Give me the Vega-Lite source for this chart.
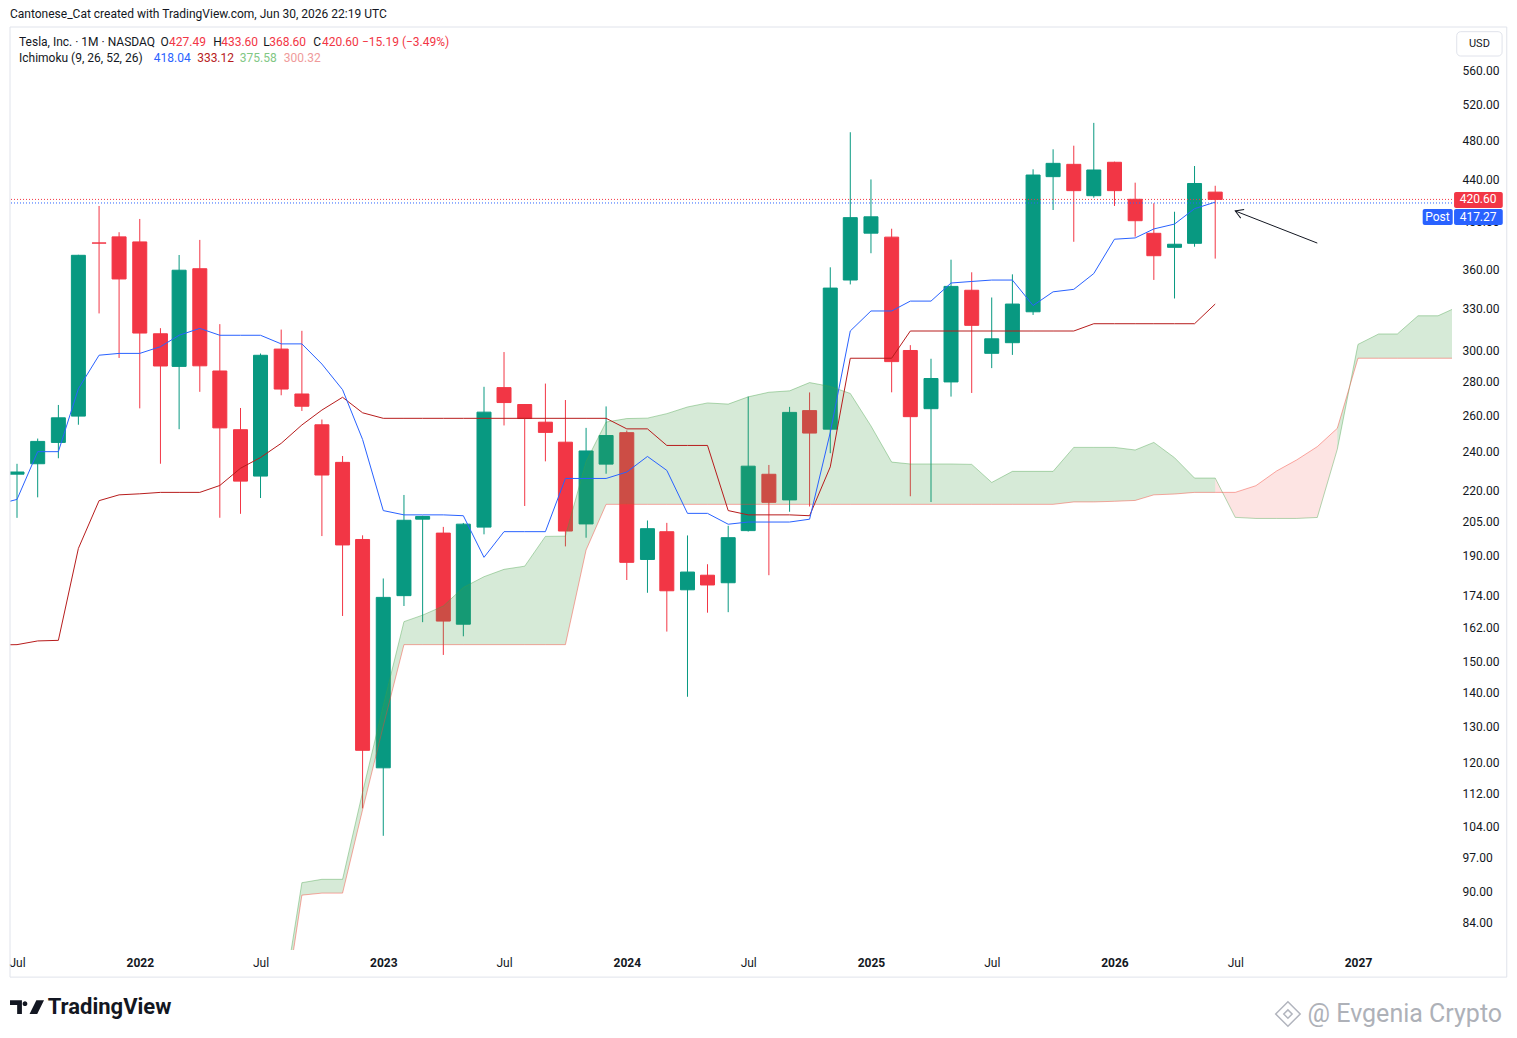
{
  "$schema": "https://vega.github.io/schema/vega-lite/v6.json",
  "width": 1442,
  "height": 923,
  "autosize": {"type": "none"},
  "padding": {"left": 10, "top": 27, "right": 65, "bottom": 88},
  "background": "#ffffff",
  "config": {
    "view": {"stroke": null},
    "font": "Roboto",
    "text": {"font": "Roboto", "fontSize": 12, "align": "left", "baseline": "middle", "color": "#131722"}
  },
  "datasets": {
    "candles": [
      {"d": "2021-07-01", "o": 227.97, "h": 233.3, "l": 206.82, "c": 229.07},
      {"d": "2021-08-01", "o": 233.33, "h": 246.8, "l": 216.5, "c": 245.24},
      {"d": "2021-09-01", "o": 244.69, "h": 266.0, "l": 236.2, "c": 258.49},
      {"d": "2021-10-01", "o": 259.47, "h": 371.74, "l": 254.53, "c": 371.33},
      {"d": "2021-11-01", "o": 381.67, "h": 414.5, "l": 326.2, "c": 381.59},
      {"d": "2021-12-01", "o": 386.9, "h": 390.95, "l": 295.37, "c": 352.26},
      {"d": "2022-01-01", "o": 382.58, "h": 402.67, "l": 264.0, "c": 312.24},
      {"d": "2022-02-01", "o": 311.74, "h": 315.67, "l": 233.33, "c": 290.14},
      {"d": "2022-03-01", "o": 289.89, "h": 371.59, "l": 252.01, "c": 359.2},
      {"d": "2022-04-01", "o": 360.38, "h": 384.29, "l": 273.9, "c": 290.25},
      {"d": "2022-05-01", "o": 286.92, "h": 318.5, "l": 206.86, "c": 252.75},
      {"d": "2022-06-01", "o": 251.72, "h": 264.21, "l": 208.69, "c": 224.47},
      {"d": "2022-07-01", "o": 227.0, "h": 298.32, "l": 216.17, "c": 297.15},
      {"d": "2022-08-01", "o": 301.28, "h": 314.67, "l": 271.81, "c": 275.61},
      {"d": "2022-09-01", "o": 272.58, "h": 313.8, "l": 262.47, "c": 265.25},
      {"d": "2022-10-01", "o": 254.5, "h": 257.5, "l": 198.59, "c": 227.54},
      {"d": "2022-11-01", "o": 234.05, "h": 237.4, "l": 166.19, "c": 194.7},
      {"d": "2022-12-01", "o": 197.08, "h": 198.92, "l": 108.24, "c": 123.18},
      {"d": "2023-01-01", "o": 118.47, "h": 180.68, "l": 101.81, "c": 173.22},
      {"d": "2023-02-01", "o": 173.89, "h": 217.65, "l": 169.93, "c": 205.71},
      {"d": "2023-03-01", "o": 206.21, "h": 207.79, "l": 163.91, "c": 207.46},
      {"d": "2023-04-01", "o": 199.91, "h": 202.69, "l": 152.37, "c": 164.31},
      {"d": "2023-05-01", "o": 163.17, "h": 204.48, "l": 158.83, "c": 203.93},
      {"d": "2023-06-01", "o": 202.59, "h": 276.99, "l": 199.37, "c": 261.77},
      {"d": "2023-07-01", "o": 276.49, "h": 299.29, "l": 254.12, "c": 267.43},
      {"d": "2023-08-01", "o": 266.26, "h": 266.47, "l": 212.36, "c": 258.08},
      {"d": "2023-09-01", "o": 255.98, "h": 278.98, "l": 234.58, "c": 250.22},
      {"d": "2023-10-01", "o": 244.81, "h": 268.94, "l": 194.07, "c": 200.84},
      {"d": "2023-11-01", "o": 204.04, "h": 252.75, "l": 197.85, "c": 240.08},
      {"d": "2023-12-01", "o": 233.14, "h": 265.13, "l": 228.2, "c": 248.48},
      {"d": "2024-01-01", "o": 250.08, "h": 251.25, "l": 180.06, "c": 187.29},
      {"d": "2024-02-01", "o": 188.5, "h": 205.6, "l": 175.01, "c": 201.88},
      {"d": "2024-03-01", "o": 200.52, "h": 204.52, "l": 160.51, "c": 175.79},
      {"d": "2024-04-01", "o": 176.17, "h": 198.87, "l": 138.8, "c": 183.28},
      {"d": "2024-05-01", "o": 182.0, "h": 186.5, "l": 167.41, "c": 178.08},
      {"d": "2024-06-01", "o": 178.97, "h": 203.2, "l": 167.6, "c": 197.88},
      {"d": "2024-07-01", "o": 201.02, "h": 271.0, "l": 200.6, "c": 232.07},
      {"d": "2024-08-01", "o": 227.92, "h": 232.7, "l": 182.0, "c": 214.11},
      {"d": "2024-09-01", "o": 215.26, "h": 264.86, "l": 209.65, "c": 261.63},
      {"d": "2024-10-01", "o": 262.67, "h": 273.54, "l": 212.11, "c": 249.85},
      {"d": "2024-11-01", "o": 252.04, "h": 361.53, "l": 238.88, "c": 345.16},
      {"d": "2024-12-01", "o": 351.42, "h": 488.54, "l": 348.0, "c": 403.84},
      {"d": "2025-01-01", "o": 390.1, "h": 439.74, "l": 373.04, "c": 404.6},
      {"d": "2025-02-01", "o": 386.68, "h": 394.0, "l": 273.6, "c": 292.98},
      {"d": "2025-03-01", "o": 300.34, "h": 303.94, "l": 217.02, "c": 259.16},
      {"d": "2025-04-01", "o": 263.8, "h": 294.86, "l": 214.25, "c": 282.16},
      {"d": "2025-05-01", "o": 280.01, "h": 367.71, "l": 271.0, "c": 346.46},
      {"d": "2025-06-01", "o": 343.5, "h": 357.54, "l": 273.21, "c": 317.66},
      {"d": "2025-07-01", "o": 298.46, "h": 338.0, "l": 288.77, "c": 308.27},
      {"d": "2025-08-01", "o": 305.6, "h": 355.9, "l": 297.4, "c": 333.1},
      {"d": "2025-09-01", "o": 327.4, "h": 449.8, "l": 325.1, "c": 444.1},
      {"d": "2025-10-01", "o": 442.5, "h": 470.3, "l": 410.8, "c": 455.8},
      {"d": "2025-11-01", "o": 454.8, "h": 474.1, "l": 382.7, "c": 428.9},
      {"d": "2025-12-01", "o": 424.1, "h": 498.83, "l": 422.2, "c": 449.1},
      {"d": "2026-01-01", "o": 456.9, "h": 457.5, "l": 414.5, "c": 428.9},
      {"d": "2026-02-01", "o": 420.7, "h": 436.6, "l": 387.1, "c": 401.1},
      {"d": "2026-03-01", "o": 390.0, "h": 417.0, "l": 351.5, "c": 371.0},
      {"d": "2026-04-01", "o": 378.0, "h": 409.2, "l": 337.25, "c": 380.6},
      {"d": "2026-05-01", "o": 381.4, "h": 453.1, "l": 378.5, "c": 435.79},
      {"d": "2026-06-01", "o": 427.49, "h": 433.6, "l": 368.6, "c": 420.6}
    ],
    "lines": [
      {"d": "2021-06-01", "t": 213.0, "k": 155.8},
      {"d": "2021-07-01", "t": 215.5, "k": 155.9},
      {"d": "2021-08-01", "t": 239.7, "k": 157.2},
      {"d": "2021-09-01", "t": 239.7, "k": 157.4},
      {"d": "2021-10-01", "t": 275.8, "k": 193.2},
      {"d": "2021-11-01", "t": 297.2, "k": 214.9},
      {"d": "2021-12-01", "t": 298.4, "k": 217.7},
      {"d": "2022-01-01", "t": 298.4, "k": 218.2},
      {"d": "2022-02-01", "t": 302.9, "k": 218.9},
      {"d": "2022-03-01", "t": 310.7, "k": 218.9},
      {"d": "2022-04-01", "t": 315.5, "k": 218.9},
      {"d": "2022-05-01", "t": 310.7, "k": 222.3},
      {"d": "2022-06-01", "t": 310.7, "k": 231.0},
      {"d": "2022-07-01", "t": 310.7, "k": 236.6},
      {"d": "2022-08-01", "t": 304.8, "k": 244.2},
      {"d": "2022-09-01", "t": 304.8, "k": 254.4},
      {"d": "2022-10-01", "t": 291.4, "k": 263.0},
      {"d": "2022-11-01", "t": 275.2, "k": 270.6},
      {"d": "2022-12-01", "t": 246.3, "k": 261.4},
      {"d": "2023-01-01", "t": 210.2, "k": 258.2},
      {"d": "2023-02-01", "t": 208.2, "k": 258.2},
      {"d": "2023-03-01", "t": 208.2, "k": 258.2},
      {"d": "2023-04-01", "t": 208.2, "k": 258.2},
      {"d": "2023-05-01", "t": 207.8, "k": 258.2},
      {"d": "2023-06-01", "t": 189.4, "k": 258.2},
      {"d": "2023-07-01", "t": 200.55, "k": 258.2},
      {"d": "2023-08-01", "t": 200.55, "k": 258.2},
      {"d": "2023-09-01", "t": 200.55, "k": 258.2},
      {"d": "2023-10-01", "t": 225.8, "k": 258.2},
      {"d": "2023-11-01", "t": 225.8, "k": 258.2},
      {"d": "2023-12-01", "t": 225.8, "k": 258.2},
      {"d": "2024-01-01", "t": 229.06, "k": 252.2},
      {"d": "2024-02-01", "t": 237.15, "k": 252.2},
      {"d": "2024-03-01", "t": 229.9, "k": 243.05},
      {"d": "2024-04-01", "t": 208.9, "k": 243.05},
      {"d": "2024-05-01", "t": 208.9, "k": 243.05},
      {"d": "2024-06-01", "t": 203.9, "k": 210.2},
      {"d": "2024-07-01", "t": 204.9, "k": 208.2},
      {"d": "2024-08-01", "t": 204.9, "k": 208.2},
      {"d": "2024-09-01", "t": 204.9, "k": 208.2},
      {"d": "2024-10-01", "t": 206.2, "k": 207.8},
      {"d": "2024-11-01", "t": 250.2, "k": 231.7},
      {"d": "2024-12-01", "t": 313.7, "k": 295.2},
      {"d": "2025-01-01", "t": 328.0, "k": 295.2},
      {"d": "2025-02-01", "t": 328.0, "k": 295.2},
      {"d": "2025-03-01", "t": 335.3, "k": 313.67},
      {"d": "2025-04-01", "t": 335.3, "k": 313.67},
      {"d": "2025-05-01", "t": 349.1, "k": 313.67},
      {"d": "2025-06-01", "t": 350.3, "k": 313.67},
      {"d": "2025-07-01", "t": 351.4, "k": 313.67},
      {"d": "2025-08-01", "t": 351.4, "k": 313.67},
      {"d": "2025-09-01", "t": 332.0, "k": 313.67},
      {"d": "2025-10-01", "t": 342.3, "k": 313.67},
      {"d": "2025-11-01", "t": 344.2, "k": 313.67},
      {"d": "2025-12-01", "t": 356.54, "k": 318.8},
      {"d": "2026-01-01", "t": 384.9, "k": 318.8},
      {"d": "2026-02-01", "t": 386.0, "k": 318.8},
      {"d": "2026-03-01", "t": 393.8, "k": 318.8},
      {"d": "2026-04-01", "t": 398.1, "k": 318.8},
      {"d": "2026-05-01", "t": 412.0, "k": 318.8},
      {"d": "2026-06-01", "t": 418.04, "k": 333.12}
    ],
    "cloud": [
      {"d": "2022-08-01", "a": 68.6, "b": 65.8},
      {"d": "2022-09-01", "a": 91.7, "b": 89.2},
      {"d": "2022-10-01", "a": 92.4, "b": 89.6},
      {"d": "2022-11-01", "a": 92.4, "b": 89.6},
      {"d": "2022-12-01", "a": 112.2, "b": 107.9},
      {"d": "2023-01-01", "a": 136.1, "b": 130.0},
      {"d": "2023-02-01", "a": 164.1, "b": 155.9},
      {"d": "2023-03-01", "a": 166.5, "b": 155.9},
      {"d": "2023-04-01", "a": 169.9, "b": 155.9},
      {"d": "2023-05-01", "a": 177.1, "b": 155.9},
      {"d": "2023-06-01", "a": 181.4, "b": 155.9},
      {"d": "2023-07-01", "a": 184.4, "b": 155.9},
      {"d": "2023-08-01", "a": 185.7, "b": 155.9},
      {"d": "2023-09-01", "a": 198.45, "b": 155.9},
      {"d": "2023-10-01", "a": 198.55, "b": 155.9},
      {"d": "2023-11-01", "a": 234.5, "b": 192.5},
      {"d": "2023-12-01", "a": 256.05, "b": 213.15},
      {"d": "2024-01-01", "a": 258.05, "b": 213.15},
      {"d": "2024-02-01", "a": 258.3, "b": 213.15},
      {"d": "2024-03-01", "a": 260.9, "b": 213.15},
      {"d": "2024-04-01", "a": 264.8, "b": 213.15},
      {"d": "2024-05-01", "a": 267.2, "b": 213.15},
      {"d": "2024-06-01", "a": 266.5, "b": 213.15},
      {"d": "2024-07-01", "a": 270.85, "b": 213.15},
      {"d": "2024-08-01", "a": 273.65, "b": 213.15},
      {"d": "2024-09-01", "a": 274.5, "b": 213.15},
      {"d": "2024-10-01", "a": 279.6, "b": 213.15},
      {"d": "2024-11-01", "a": 277.2, "b": 213.15},
      {"d": "2024-12-01", "a": 272.9, "b": 213.15},
      {"d": "2025-01-01", "a": 253.85, "b": 213.15},
      {"d": "2025-02-01", "a": 234.2, "b": 213.15},
      {"d": "2025-03-01", "a": 233.2, "b": 213.15},
      {"d": "2025-04-01", "a": 233.2, "b": 213.15},
      {"d": "2025-05-01", "a": 233.2, "b": 213.15},
      {"d": "2025-06-01", "a": 233.0, "b": 213.15},
      {"d": "2025-07-01", "a": 223.8, "b": 213.15},
      {"d": "2025-08-01", "a": 229.4, "b": 213.15},
      {"d": "2025-09-01", "a": 229.4, "b": 213.15},
      {"d": "2025-10-01", "a": 229.4, "b": 213.15},
      {"d": "2025-11-01", "a": 242.0, "b": 214.3},
      {"d": "2025-12-01", "a": 242.0, "b": 214.3},
      {"d": "2026-01-01", "a": 242.0, "b": 214.6},
      {"d": "2026-02-01", "a": 240.6, "b": 215.0},
      {"d": "2026-03-01", "a": 244.7, "b": 217.7},
      {"d": "2026-04-01", "a": 236.5, "b": 218.1},
      {"d": "2026-05-01", "a": 226.0, "b": 218.9},
      {"d": "2026-06-01", "a": 226.0, "b": 218.9},
      {"d": "2026-07-01", "a": 207.05, "b": 218.9},
      {"d": "2026-08-01", "a": 206.55, "b": 222.2},
      {"d": "2026-09-01", "a": 206.55, "b": 229.6},
      {"d": "2026-10-01", "a": 206.55, "b": 235.3},
      {"d": "2026-11-01", "a": 207.0, "b": 242.4},
      {"d": "2026-12-01", "a": 241.0, "b": 252.5},
      {"d": "2027-01-01", "a": 304.45, "b": 295.2},
      {"d": "2027-02-01", "a": 311.6, "b": 295.2},
      {"d": "2027-03-01", "a": 311.6, "b": 295.2},
      {"d": "2027-04-01", "a": 324.5, "b": 295.2},
      {"d": "2027-05-01", "a": 324.5, "b": 295.2},
      {"d": "2027-06-01", "a": 331.4, "b": 295.2},
      {"d": "2027-07-01", "a": 332.0, "b": 295.2}
    ]
  },
  "layer": [
    {
      "data": {"name": "candles"},
      "mark": {"type": "rule", "strokeWidth": 1, "clip": true},
      "encoding": {
        "x": {
          "field": "d", "type": "temporal", "title": null,
          "scale": {"type": "utc", "padding": 0, "nice": false, "domain": [{"year": 2021, "month": 6, "date": 20, "hours": 12, "utc": true}, {"year": 2027, "month": 5, "date": 21, "hours": 22, "utc": true}]},
          "axis": {
            "orient": "bottom", "grid": false, "ticks": false, "tickSize": 0, "domain": false,
            "labelPadding": 7, "labelFontSize": 12, "labelFont": "Roboto", "labelColor": "#131722",
            "labelFlush": false, "labelOverlap": false, "labelBound": false,
            "values": [
              {"year": 2021, "month": 7, "date": 1, "utc": true},
              {"year": 2022, "month": 1, "date": 1, "utc": true},
              {"year": 2022, "month": 7, "date": 1, "utc": true},
              {"year": 2023, "month": 1, "date": 1, "utc": true},
              {"year": 2023, "month": 7, "date": 1, "utc": true},
              {"year": 2024, "month": 1, "date": 1, "utc": true},
              {"year": 2024, "month": 7, "date": 1, "utc": true},
              {"year": 2025, "month": 1, "date": 1, "utc": true},
              {"year": 2025, "month": 7, "date": 1, "utc": true},
              {"year": 2026, "month": 1, "date": 1, "utc": true},
              {"year": 2026, "month": 7, "date": 1, "utc": true},
              {"year": 2027, "month": 1, "date": 1, "utc": true}
            ],
            "labelExpr": "utcmonth(datum.value) == 0 ? utcFormat(datum.value, '%Y') : 'Jul'",
            "labelFontWeight": {"condition": {"test": "utcmonth(datum.value) == 0", "value": "bold"}, "value": "normal"}
          }
        },
        "y": {
          "field": "l", "type": "quantitative", "title": null,
          "scale": {"type": "log", "domain": [78.93, 617.7], "nice": false, "zero": false, "padding": 0},
          "axis": {
            "orient": "right", "grid": false, "ticks": false, "tickSize": 0, "domain": false,
            "labelPadding": 10, "labelFontSize": 12, "labelFont": "Roboto", "labelColor": "#131722",
            "format": ".2f", "labelOverlap": false, "labelFlush": false,
            "values": [84, 90, 97, 104, 112, 120, 130, 140, 150, 162, 174, 190, 205, 220, 240, 260, 280, 300, 330, 360, 400, 440, 480, 520, 560]
          }
        },
        "y2": {"field": "h"},
        "color": {"condition": {"test": "datum.c >= datum.o", "value": "#089981"}, "value": "#f23645"}
      }
    },
    {
      "data": {"name": "candles"},
      "mark": {"type": "bar", "width": 14, "strokeWidth": 1, "clip": true},
      "encoding": {
        "x": {"field": "d", "type": "temporal", "title": null},
        "y": {"field": "o", "type": "quantitative", "title": null},
        "y2": {"field": "c"},
        "color": {"condition": {"test": "datum.c >= datum.o", "value": "#089981"}, "value": "#f23645"},
        "stroke": {"condition": {"test": "datum.c >= datum.o", "value": "#089981"}, "value": "#f23645"}
      }
    },
    {
      "data": {"name": "cloud"},
      "transform": [{"filter": {"field": "d", "lte": {"year": 2026, "month": 6, "date": 1, "utc": true}}}],
      "mark": {"type": "area", "color": "#43a047", "fillOpacity": 0.22, "clip": true},
      "encoding": {
        "x": {"field": "d", "type": "temporal", "title": null},
        "y": {"field": "a", "type": "quantitative", "title": null},
        "y2": {"field": "b"}
      }
    },
    {
      "data": {"name": "cloud"},
      "transform": [{"filter": {"field": "d", "range": [{"year": 2026, "month": 6, "date": 1, "utc": true}, {"year": 2026, "month": 12, "date": 1, "utc": true}]}}],
      "mark": {"type": "area", "color": "#f44336", "fillOpacity": 0.14, "clip": true},
      "encoding": {
        "x": {"field": "d", "type": "temporal", "title": null},
        "y": {"field": "a", "type": "quantitative", "title": null},
        "y2": {"field": "b"}
      }
    },
    {
      "data": {"name": "cloud"},
      "transform": [{"filter": {"field": "d", "gte": {"year": 2026, "month": 12, "date": 1, "utc": true}}}],
      "mark": {"type": "area", "color": "#43a047", "fillOpacity": 0.22, "clip": true},
      "encoding": {
        "x": {"field": "d", "type": "temporal", "title": null},
        "y": {"field": "a", "type": "quantitative", "title": null},
        "y2": {"field": "b"}
      }
    },
    {
      "data": {"name": "cloud"},
      "mark": {"type": "line", "color": "#43a047", "opacity": 0.4, "strokeWidth": 1, "clip": true},
      "encoding": {
        "x": {"field": "d", "type": "temporal", "title": null},
        "y": {"field": "a", "type": "quantitative", "title": null}
      }
    },
    {
      "data": {"name": "cloud"},
      "mark": {"type": "line", "color": "#f44336", "opacity": 0.45, "strokeWidth": 1, "clip": true},
      "encoding": {
        "x": {"field": "d", "type": "temporal", "title": null},
        "y": {"field": "b", "type": "quantitative", "title": null}
      }
    },
    {
      "data": {"name": "lines"},
      "mark": {"type": "line", "color": "#b71c1c", "strokeWidth": 1, "clip": true},
      "encoding": {
        "x": {"field": "d", "type": "temporal", "title": null},
        "y": {"field": "k", "type": "quantitative", "title": null}
      }
    },
    {
      "data": {"name": "lines"},
      "mark": {"type": "line", "color": "#2962ff", "strokeWidth": 1, "clip": true},
      "encoding": {
        "x": {"field": "d", "type": "temporal", "title": null},
        "y": {"field": "t", "type": "quantitative", "title": null}
      }
    },
    {
      "data": {"values": [{}]},
      "mark": {"type": "rule", "stroke": "#f23645", "strokeWidth": 1, "strokeDash": [1, 2]},
      "encoding": {"y": {"datum": 420.6}}
    },
    {
      "data": {"values": [{}]},
      "mark": {"type": "rule", "stroke": "#2962ff", "strokeWidth": 1, "strokeDash": [1, 2]},
      "encoding": {"y": {"datum": 417.27}}
    },
    {
      "data": {"values": [{}]},
      "mark": {"type": "rule", "stroke": "#131722", "strokeWidth": 1},
      "encoding": {
        "x": {"datum": {"year": 2026, "month": 11, "date": 1, "utc": true}},
        "x2": {"datum": {"year": 2026, "month": 7, "date": 1, "utc": true}},
        "y": {"datum": 381.6},
        "y2": {"datum": 409.9}
      }
    },
    {
      "data": {"values": [{}]},
      "mark": {"type": "point", "shape": "M-1,-0.6L0,0L-1,0.6", "filled": false, "stroke": "#131722", "strokeWidth": 1, "size": 240, "angle": 201.6, "opacity": 1},
      "encoding": {
        "x": {"datum": {"year": 2026, "month": 7, "date": 1, "utc": true}},
        "y": {"datum": 409.9}
      }
    },
    {
      "data": {"values": [{}]},
      "mark": {"type": "rect", "fillOpacity": 0, "stroke": "#e0e3eb", "strokeWidth": 1},
      "encoding": {
        "x": {"datum": {"year": 2021, "month": 6, "date": 20, "hours": 12, "utc": true}},
        "x2": {"datum": {"year": 2027, "month": 8, "date": 12, "utc": true}},
        "y": {"datum": 617.7},
        "y2": {"datum": 74.3}
      }
    },
    {
      "data": {"values": [{}]},
      "mark": {"type": "rect", "fill": "#ffffff", "stroke": "#e0e3eb", "strokeWidth": 1, "cornerRadius": 4},
      "encoding": {
        "x": {"datum": {"year": 2027, "month": 5, "date": 29, "utc": true}},
        "x2": {"datum": {"year": 2027, "month": 8, "date": 5, "utc": true}},
        "y": {"datum": 611.3},
        "y2": {"datum": 579.0}
      }
    },
    {
      "data": {"values": [{}]},
      "mark": {"type": "text", "text": "USD", "align": "center", "fontSize": 11},
      "encoding": {"x": {"datum": {"year": 2027, "month": 7, "date": 2, "utc": true}}, "y": {"datum": 594.7}}
    },
    {
      "data": {"values": [{}]},
      "mark": {"type": "rect", "fill": "#f23645", "cornerRadius": 2},
      "encoding": {
        "x": {"datum": {"year": 2027, "month": 5, "date": 25, "utc": true}},
        "x2": {"datum": {"year": 2027, "month": 8, "date": 6, "utc": true}},
        "y": {"datum": 427.6},
        "y2": {"datum": 412.6}
      }
    },
    {
      "data": {"values": [{}]},
      "mark": {"type": "rect", "fill": "#2962ff", "cornerRadius": 2},
      "encoding": {
        "x": {"datum": {"year": 2027, "month": 5, "date": 25, "utc": true}},
        "x2": {"datum": {"year": 2027, "month": 8, "date": 6, "utc": true}},
        "y": {"datum": 411.7},
        "y2": {"datum": 397.3}
      }
    },
    {
      "data": {"values": [{}]},
      "mark": {"type": "rect", "fill": "#2962ff", "cornerRadius": 2},
      "encoding": {
        "x": {"datum": {"year": 2027, "month": 4, "date": 8, "utc": true}},
        "x2": {"datum": {"year": 2027, "month": 5, "date": 23, "utc": true}},
        "y": {"datum": 411.7},
        "y2": {"datum": 397.3}
      }
    },
    {
      "data": {"values": [{}]},
      "mark": {"type": "text", "text": "420.60", "align": "center", "color": "#ffffff"},
      "encoding": {"x": {"datum": {"year": 2027, "month": 6, "date": 30, "utc": true}}, "y": {"datum": 420.6}}
    },
    {
      "data": {"values": [{}]},
      "mark": {"type": "text", "text": "417.27", "align": "center", "color": "#ffffff"},
      "encoding": {"x": {"datum": {"year": 2027, "month": 6, "date": 30, "utc": true}}, "y": {"datum": 404.4}}
    },
    {
      "data": {"values": [{}]},
      "mark": {"type": "text", "text": "Post", "align": "center", "color": "#ffffff"},
      "encoding": {"x": {"datum": {"year": 2027, "month": 4, "date": 30, "utc": true}}, "y": {"datum": 404.4}}
    },
    {
      "data": {"values": [{}]},
      "mark": {"type": "text", "text": "Cantonese_Cat created with TradingView.com, Jun 30, 2026 22:19 UTC"},
      "encoding": {"x": {"datum": {"year": 2021, "month": 6, "date": 20, "hours": 12, "utc": true}}, "y": {"datum": 635.9}}
    },
    {
      "data": {"values": [{}]},
      "mark": {"type": "text", "text": "Tesla, Inc. · 1M · NASDAQ"},
      "encoding": {"x": {"datum": {"year": 2021, "month": 7, "date": 4, "utc": true}}, "y": {"datum": 597.4}}
    },
    {
      "data": {"values": [{}]},
      "mark": {"type": "text", "text": "O"},
      "encoding": {"x": {"datum": {"year": 2022, "month": 2, "date": 1, "utc": true}}, "y": {"datum": 597.4}}
    },
    {
      "data": {"values": [{}]},
      "mark": {"type": "text", "text": "427.49", "color": "#f23645"},
      "encoding": {"x": {"datum": {"year": 2022, "month": 2, "date": 14, "utc": true}}, "y": {"datum": 597.4}}
    },
    {
      "data": {"values": [{}]},
      "mark": {"type": "text", "text": "H"},
      "encoding": {"x": {"datum": {"year": 2022, "month": 4, "date": 21, "utc": true}}, "y": {"datum": 597.4}}
    },
    {
      "data": {"values": [{}]},
      "mark": {"type": "text", "text": "433.60", "color": "#f23645"},
      "encoding": {"x": {"datum": {"year": 2022, "month": 5, "date": 3, "utc": true}}, "y": {"datum": 597.4}}
    },
    {
      "data": {"values": [{}]},
      "mark": {"type": "text", "text": "L"},
      "encoding": {"x": {"datum": {"year": 2022, "month": 7, "date": 5, "utc": true}}, "y": {"datum": 597.4}}
    },
    {
      "data": {"values": [{}]},
      "mark": {"type": "text", "text": "368.60", "color": "#f23645"},
      "encoding": {"x": {"datum": {"year": 2022, "month": 7, "date": 14, "utc": true}}, "y": {"datum": 597.4}}
    },
    {
      "data": {"values": [{}]},
      "mark": {"type": "text", "text": "C"},
      "encoding": {"x": {"datum": {"year": 2022, "month": 9, "date": 18, "utc": true}}, "y": {"datum": 597.4}}
    },
    {
      "data": {"values": [{}]},
      "mark": {"type": "text", "text": "420.60", "color": "#f23645"},
      "encoding": {"x": {"datum": {"year": 2022, "month": 10, "date": 1, "utc": true}}, "y": {"datum": 597.4}}
    },
    {
      "data": {"values": [{}]},
      "mark": {"type": "text", "text": "−15.19 (−3.49%)", "color": "#f23645"},
      "encoding": {"x": {"datum": {"year": 2022, "month": 11, "date": 30, "utc": true}}, "y": {"datum": 597.4}}
    },
    {
      "data": {"values": [{}]},
      "mark": {"type": "text", "text": "Ichimoku (9, 26, 52, 26)"},
      "encoding": {"x": {"datum": {"year": 2021, "month": 7, "date": 4, "utc": true}}, "y": {"datum": 576.5}}
    },
    {
      "data": {"values": [{}]},
      "mark": {"type": "text", "text": "418.04", "color": "#2962ff"},
      "encoding": {"x": {"datum": {"year": 2022, "month": 1, "date": 22, "utc": true}}, "y": {"datum": 576.5}}
    },
    {
      "data": {"values": [{}]},
      "mark": {"type": "text", "text": "333.12", "color": "#b71c1c"},
      "encoding": {"x": {"datum": {"year": 2022, "month": 3, "date": 28, "utc": true}}, "y": {"datum": 576.5}}
    },
    {
      "data": {"values": [{}]},
      "mark": {"type": "text", "text": "375.58", "color": "#81c784"},
      "encoding": {"x": {"datum": {"year": 2022, "month": 5, "date": 31, "utc": true}}, "y": {"datum": 576.5}}
    },
    {
      "data": {"values": [{}]},
      "mark": {"type": "text", "text": "300.32", "color": "#ef9a9a"},
      "encoding": {"x": {"datum": {"year": 2022, "month": 8, "date": 5, "utc": true}}, "y": {"datum": 576.5}}
    },
    {
      "data": {"values": [{}]},
      "mark": {"type": "point", "shape": "M-1,-0.4L-0.3,-0.4L-0.3,0.4L-0.58,0.4L-0.58,-0.12L-1,-0.12Z M-0.26,-0.2A0.14,0.14 0 1 0 0.02,-0.2A0.14,0.14 0 1 0 -0.26,-0.2Z M0.55,-0.4L1,-0.4L0.6,0.4L0.15,0.4Z", "filled": true, "color": "#131722", "size": 1156, "opacity": 1, "strokeWidth": 0},
      "encoding": {"x": {"datum": {"year": 2021, "month": 7, "date": 16, "utc": true}}, "y": {"datum": 69.5}}
    },
    {
      "data": {"values": [{}]},
      "mark": {"type": "text", "text": "TradingView", "fontSize": 22, "fontWeight": "bold"},
      "encoding": {"x": {"datum": {"year": 2021, "month": 8, "date": 16, "utc": true}}, "y": {"datum": 69.5}}
    },
    {
      "data": {"values": [{}]},
      "mark": {"type": "point", "shape": "diamond", "filled": false, "stroke": "#b2b5be", "strokeWidth": 1.5, "size": 600, "opacity": 1},
      "encoding": {"x": {"datum": {"year": 2026, "month": 9, "date": 18, "utc": true}}, "y": {"datum": 68.43}}
    },
    {
      "data": {"values": [{}]},
      "mark": {"type": "point", "shape": "diamond", "filled": false, "stroke": "#b2b5be", "strokeWidth": 1.5, "size": 70, "opacity": 1},
      "encoding": {"x": {"datum": {"year": 2026, "month": 9, "date": 18, "utc": true}}, "y": {"datum": 68.43}}
    },
    {
      "data": {"values": [{}]},
      "mark": {"type": "text", "text": "@ Evgenia Crypto", "align": "right", "fontSize": 25, "color": "#aeb1b8"},
      "encoding": {"x": {"datum": {"year": 2027, "month": 8, "date": 5, "utc": true}}, "y": {"datum": 68.43}}
    }
  ]
}
